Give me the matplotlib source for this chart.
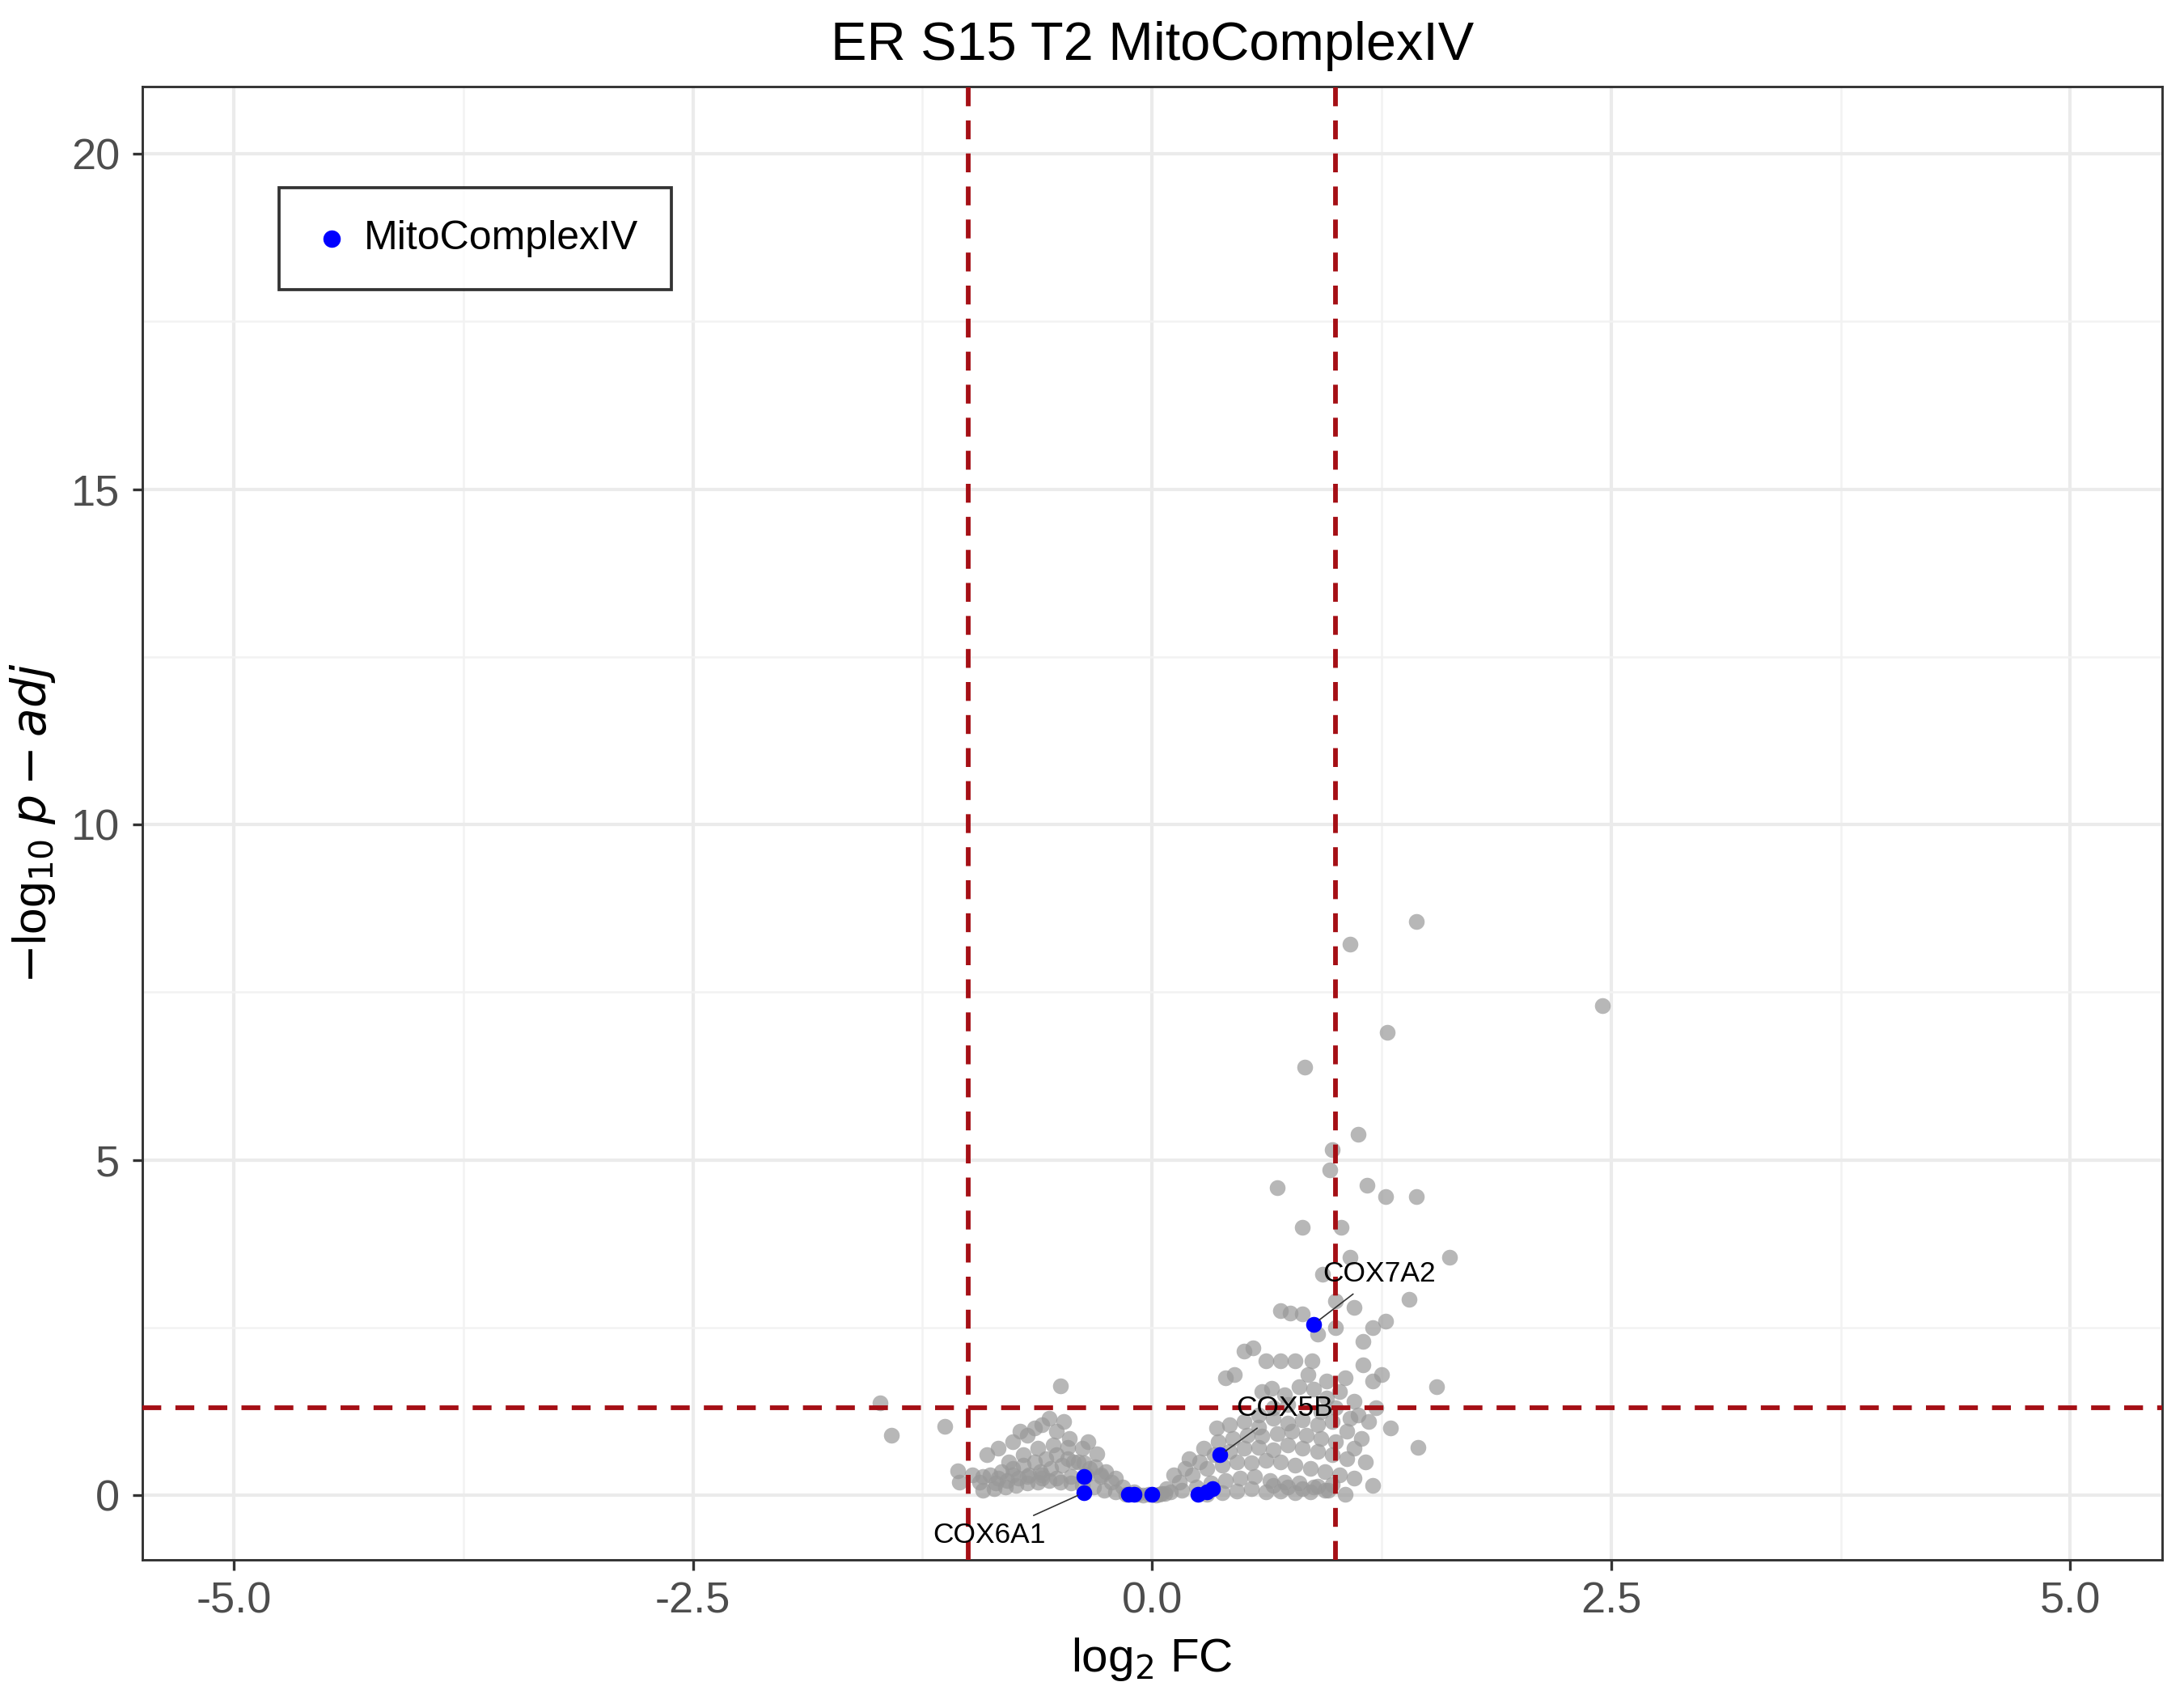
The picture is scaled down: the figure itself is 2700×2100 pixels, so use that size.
import matplotlib
matplotlib.use("Agg")
import matplotlib.pyplot as plt

plt.rcParams['font.family'] = ['Liberation Sans', 'DejaVu Sans']

# grey background genes (log2FC, -log10 padj)
bg_x = [1.44, 1.08, 2.45, 1.28, 0.83, 1.12, 0.98, 0.97, 0.68, 1.17, 1.27, 1.44, 0.82, 1.03,
        1.62, 1.08, 1.40, 1.27, 0.70, 0.75, 0.82, 1.00, 1.10, 1.20, 0.93, 0.50, 0.55, 0.62,
        0.70, 0.78, 0.87, 0.90, 1.00, 1.15, 1.15, 1.20, 1.25, 1.55, 0.40, 0.45, 0.85, 0.95,
        1.05, -0.50, -1.48, -1.42, -1.13, -1.06, -1.05, 1.45, 1.12, 1.05, 1.22, 1.30, 0.60,
        0.65, 0.72, 0.80, 0.88, 0.95, 1.02, 1.10, 0.58, 0.66, 0.74, 0.92, 1.00, 1.08, 1.18,
        0.35, 0.42, 0.50, 0.58, 0.66, 0.74, 0.82, 0.90, 0.98, 1.06, 1.14, 0.20, 0.28, 0.36,
        0.44, 0.52, 0.60, 0.68, 0.76, 0.84, 0.92, 1.00, 1.10, 0.12, 0.18, 0.26, 0.34, 0.42,
        0.50, 0.58, 0.66, 0.74, 0.82, 0.90, 0.98, 1.06, 1.16, 0.08, 0.15, 0.22, 0.30, 0.38,
        0.46, 0.54, 0.62, 0.70, 0.78, 0.86, 0.94, 1.02, 1.10, 1.20, 0.05, 0.10, 0.16, 0.24,
        0.32, 0.40, 0.48, 0.56, 0.64, 0.72, 0.80, 0.88, 0.96,
        -0.10, -0.16, -0.22, -0.28, -0.34, -0.40, -0.46, -0.52, -0.58, -0.64, -0.70, -0.76,
        -0.82, -0.88, -0.94, -0.14, -0.20, -0.26, -0.32, -0.38, -0.44, -0.50, -0.56, -0.62,
        -0.68, -0.74, -0.80, -0.86, -0.92, -0.25, -0.31, -0.37, -0.43, -0.49, -0.55, -0.61,
        -0.67, -0.73, -0.79, -0.85, -0.30, -0.38, -0.46, -0.54, -0.62, -0.70, -0.78, -0.45,
        -0.52, -0.60, -0.68, -0.76, -0.84, -0.48, -0.56, -0.64, -0.72, -0.35, -0.60, -0.90,
        -0.05, -0.02, 0.02, 0.04, -0.08, 0.07,
        0.62, 0.70, 0.78, 0.86, 0.94, 0.66, 0.74, 0.82, 0.90, 0.98, 0.54, 0.46, 0.38, 0.30,
        -0.20, -0.28, -0.36, -0.44, -0.52, -0.60, -0.68, -0.76, -0.84, -0.92, -0.98]
bg_y = [8.55, 8.22, 7.30, 6.90, 6.38, 5.38, 5.15, 4.85, 4.58, 4.62, 4.45, 4.45, 4.00, 4.00,
        3.55, 3.55, 2.92, 2.60, 2.75, 2.72, 2.70, 2.90, 2.80, 2.50, 3.30, 2.15, 2.20, 2.00,
        2.00, 2.00, 2.00, 2.40, 2.50, 2.30, 1.95, 1.70, 1.80, 1.62, 1.75, 1.80, 1.80, 1.70,
        1.75, 1.63, 1.38, 0.90, 1.03, 0.37, 0.20, 0.72, 1.20, 0.02, 1.30, 1.00, 1.55, 1.60,
        1.50, 1.62, 1.58, 1.45, 1.55, 1.40, 1.20, 1.30, 1.35, 1.25, 1.30, 1.15, 1.10,
        1.00, 1.05, 1.10, 1.02, 1.15, 1.08, 1.12, 1.05, 1.10, 0.95, 0.85, 0.55, 0.70, 0.80,
        0.85, 0.90, 0.88, 0.92, 0.95, 0.90, 0.85, 0.80, 0.70, 0.30, 0.40, 0.50, 0.60, 0.65,
        0.70, 0.72, 0.68, 0.75, 0.70, 0.65, 0.60, 0.55, 0.50, 0.10, 0.20, 0.30, 0.40, 0.45,
        0.50, 0.48, 0.52, 0.50, 0.45, 0.40, 0.35, 0.30, 0.25, 0.15, 0.03, 0.05, 0.08, 0.12,
        0.18, 0.22, 0.25, 0.28, 0.22, 0.20, 0.18, 0.12, 0.08,
        0.05, 0.12, 0.20, 0.30, 0.40, 0.50, 0.55, 0.60, 0.55, 0.50, 0.45, 0.40,
        0.35, 0.30, 0.20, 0.02, 0.05, 0.08, 0.12, 0.15, 0.18, 0.20, 0.22, 0.20,
        0.18, 0.15, 0.12, 0.10, 0.08, 0.35, 0.42, 0.48, 0.50, 0.45, 0.40, 0.35,
        0.30, 0.25, 0.22, 0.18, 0.62, 0.70, 0.72, 0.75, 0.70, 0.60, 0.50, 0.85,
        0.95, 1.05, 0.90, 0.80, 0.70, 1.10, 1.15, 1.00, 0.95, 0.80, 0.30, 0.60,
        0.00, 0.01, 0.00, 0.02, 0.01, 0.03,
        0.05, 0.06, 0.04, 0.05, 0.08, 0.15, 0.12, 0.10, 0.14, 0.16, 0.10, 0.06, 0.04, 0.02,
        0.26, 0.28, 0.30, 0.28, 0.26, 0.25, 0.28, 0.30, 0.26, 0.28, 0.30]

# MitoComplexIV genes
mito_x = [-0.37, -0.37, -0.13, -0.10, 0.00, 0.25, 0.30, 0.33, 0.37, 0.88]
mito_y = [0.28, 0.04, 0.01, 0.01, 0.01, 0.02, 0.05, 0.10, 0.60, 2.55]

labels = ["COX7A2", "COX5B", "COX6A1"]
label_pts = [(0.88, 2.55), (0.37, 0.60), (-0.37, 0.04)]
label_txt = [(0.93, 3.3), (0.46, 1.3), (-0.58, -0.6)]
label_ha = ["left", "left", "right"]

fig = plt.figure(figsize=(9, 7), dpi=300)
ax = fig.add_axes([0.065, 0.082, 0.925, 0.867])

ax.set_xlim(-5.5, 5.5)
ax.set_ylim(-0.96, 21.0)
ax.set_xticks([-5, -2.5, 0, 2.5, 5])
ax.set_xticklabels(["-5.0", "-2.5", "0.0", "2.5", "5.0"])
ax.set_yticks([0, 5, 10, 15, 20])
ax.set_xticks([-3.75, -1.25, 1.25, 3.75], minor=True)
ax.set_yticks([2.5, 7.5, 12.5, 17.5], minor=True)
ax.grid(which='major', color='#EBEBEB', lw=1.0)
ax.grid(which='minor', color='#F2F2F2', lw=0.6)
ax.set_axisbelow(True)
ax.tick_params(which='minor', length=0)
ax.tick_params(which='major', labelsize=13, color='#333333', labelcolor='#4D4D4D', length=3)
for s in ax.spines.values():
    s.set_color('#333333')
    s.set_linewidth(0.7)

ax.scatter(bg_x, bg_y, s=22, color='#999999', alpha=0.7, lw=0, zorder=2)
ax.scatter(mito_x, mito_y, s=22, color='#0000FF', lw=0, zorder=3, label='MitoComplexIV')

for v in (-1, 1):
    ax.axvline(v, color='#A50F15', ls=(0, (4, 3)), lw=1.4, zorder=4)
ax.axhline(1.30103, color='#A50F15', ls=(0, (4, 3)), lw=1.4, zorder=4)

for lab, p, t, ha in zip(labels, label_pts, label_txt, label_ha):
    ax.annotate(lab, xy=p, xytext=t, fontsize=8.5, ha=ha, va='center',
                arrowprops=dict(arrowstyle='-', color='#333333', lw=0.4, shrinkA=0, shrinkB=2),
                zorder=5)

ax.set_title("ER S15 T2 MitoComplexIV", fontsize=16, pad=8)
ax.set_xlabel(r"log$_2$ FC", fontsize=14)
ax.set_ylabel(r"$-$log$_{10}$ $p-adj$", fontsize=14)

leg = ax.legend(loc='upper left', bbox_to_anchor=(0.058, 0.945), fontsize=12,
                frameon=True, fancybox=False, edgecolor='black', handletextpad=0.3,
                borderpad=0.8, handlelength=1.0, markerscale=1.1)
leg.get_frame().set_linewidth(0.9)

fig.savefig("out.png", dpi=300)
